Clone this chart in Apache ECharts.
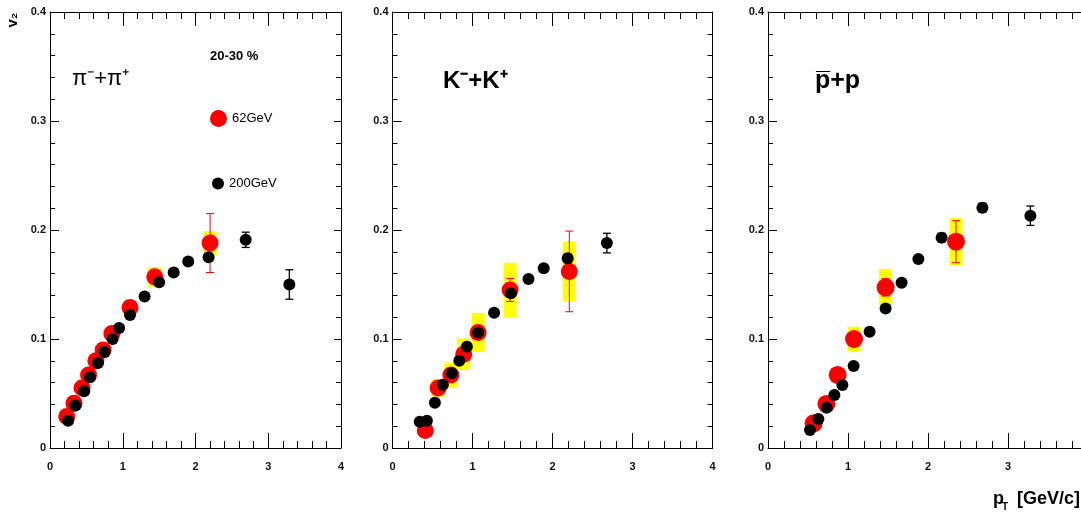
<!DOCTYPE html>
<html><head><meta charset="utf-8">
<script src="https://cdn.jsdelivr.net/npm/echarts@6/dist/echarts.min.js"></script>
<style>html,body{margin:0;padding:0;background:#fff}#c{width:1081px;height:515px}</style>
</head><body><div id="c"></div>
<script>
// ---------------- data ----------------
const xTickLabels = ['0', '1', '2', '3', '4'];
const yTickLabels = ['0', '0.1', '0.2', '0.3', '0.4'];
const panelLabels = ['π⁻+π⁺', 'K⁻+K⁺', 'p̅+p'];
const centralityLabel = '20-30 %';
const seriesNames = ['62GeV', '200GeV'];

// pions
const piX62   = [0.23, 0.33, 0.44, 0.53, 0.63, 0.73, 0.85, 1.10, 1.44, 2.20];
const piY62   = [0.029, 0.041, 0.055, 0.067, 0.080, 0.090, 0.105, 0.129, 0.157, 0.188];
const piErr62 = [0.001, 0.001, 0.001, 0.001, 0.002, 0.002, 0.002, 0.003, 0.005, 0.027];
const piSys62 = [0.002, 0.002, 0.002, 0.003, 0.003, 0.003, 0.004, 0.005, 0.009, 0.011];
const piX200   = [0.25, 0.35, 0.47, 0.55, 0.66, 0.75, 0.86, 0.95, 1.10, 1.30, 1.50, 1.70, 1.90, 2.18, 2.69, 3.29];
const piY200   = [0.025, 0.039, 0.052, 0.065, 0.078, 0.088, 0.100, 0.110, 0.122, 0.139, 0.152, 0.161, 0.171, 0.175, 0.191, 0.150];
const piErr200 = [0.001, 0.001, 0.001, 0.001, 0.001, 0.001, 0.001, 0.001, 0.001, 0.001, 0.002, 0.002, 0.002, 0.003, 0.007, 0.0135];

// kaons
const kX62   = [0.41, 0.57, 0.73, 0.89, 1.07, 1.47, 2.21];
const kY62   = [0.016, 0.055, 0.067, 0.086, 0.106, 0.145, 0.162];
const kErr62 = [0.002, 0.002, 0.002, 0.003, 0.004, 0.0105, 0.037];
const kSys62 = [0.003, 0.008, 0.0115, 0.0145, 0.018, 0.025, 0.0275];
const kX200   = [0.34, 0.43, 0.53, 0.63, 0.74, 0.835, 0.93, 1.07, 1.27, 1.48, 1.70, 1.89, 2.19, 2.68];
const kY200   = [0.024, 0.025, 0.0415, 0.058, 0.0685, 0.080, 0.093, 0.106, 0.124, 0.142, 0.155, 0.165, 0.174, 0.188];
const kErr200 = [0.001, 0.001, 0.001, 0.001, 0.001, 0.001, 0.001, 0.002, 0.002, 0.003, 0.003, 0.003, 0.004, 0.009];

// protons
const pX62   = [0.57, 0.73, 0.87, 1.075, 1.47, 2.35];
const pY62   = [0.0226, 0.0404, 0.067, 0.100, 0.1474, 0.1893];
const pErr62 = [0.002, 0.002, 0.003, 0.004, 0.008, 0.0193];
const pSys62 = [0.003, 0.004, 0.006, 0.0113, 0.017, 0.0217];
const pX200   = [0.525, 0.63, 0.733, 0.83, 0.93, 1.07, 1.27, 1.47, 1.67, 1.88, 2.17, 2.68, 3.28];
const pY200   = [0.0165, 0.0266, 0.037, 0.0486, 0.0578, 0.0752, 0.1067, 0.128, 0.1517, 0.1734, 0.193, 0.2205, 0.2131];
const pErr200 = [0.001, 0.001, 0.001, 0.001, 0.001, 0.002, 0.002, 0.002, 0.003, 0.003, 0.004, 0.004, 0.0089];

// ---------------- build ----------------
const FONT = 'Liberation Sans';
const panels = [
  {x62: piX62, y62: piY62, e62: piErr62, s62: piSys62, x200: piX200, y200: piY200, e200: piErr200},
  {x62: kX62, y62: kY62, e62: kErr62, s62: kSys62, x200: kX200, y200: kY200, e200: kErr200},
  {x62: pX62, y62: pY62, e62: pErr62, s62: pSys62, x200: pX200, y200: pY200, e200: pErr200}
];
const gridBoxes = [
  {left: 50, top: 12, width: 291, height: 436},
  {left: 392.5, top: 12, width: 320, height: 436},
  {left: 768, top: 12, width: 320, height: 436}
];

const grid = [], xAxis = [], yAxis = [], series = [];
const axisLine = {onZero: false, lineStyle: {color: '#000', width: 1}};
const labelStyle = {fontFamily: FONT, fontSize: 11, fontWeight: 'bold', color: '#111'};

function errRender(color, lw) {
  return function (params, api) {
    const x = api.value(0), y = api.value(1), e = api.value(2);
    const t = api.coord([x, y + e]), b = api.coord([x, y - e]);
    const h = 4;
    const st = {stroke: color, lineWidth: lw};
    return {type: 'group', children: [
      {type: 'line', shape: {x1: t[0], y1: t[1], x2: b[0], y2: b[1]}, style: st},
      {type: 'line', shape: {x1: t[0] - h, y1: t[1], x2: t[0] + h, y2: t[1]}, style: st},
      {type: 'line', shape: {x1: b[0] - h, y1: b[1], x2: b[0] + h, y2: b[1]}, style: st}
    ]};
  };
}
function boxRender(params, api) {
  const x = api.value(0), y = api.value(1), s = api.value(2);
  const t = api.coord([x, y + s]), b = api.coord([x, y - s]);
  const hw = 6.5;
  return {type: 'rect', shape: {x: t[0] - hw, y: t[1], width: 2 * hw, height: b[1] - t[1]},
          style: {fill: '#ffff00'}};
}

panels.forEach((p, i) => {
  grid.push(Object.assign({containLabel: false, outerBoundsMode: 'none'}, gridBoxes[i]));
  const xb = i * 2, yb = i * 2;
  xAxis.push({
    gridIndex: i, type: 'value', min: 0, max: 4, interval: 1, position: 'bottom',
    axisLine: axisLine,
    axisTick: {inside: true, length: 15, lineStyle: {color: '#000'}},
    minorTick: {show: true, splitNumber: 5, length: 7, lineStyle: {color: '#000'}},
    splitLine: {show: false},
    axisLabel: Object.assign({margin: 13, formatter: v => xTickLabels[Math.round(v)]}, labelStyle)
  });
  xAxis.push({
    gridIndex: i, type: 'value', min: 0, max: 4, interval: 1, position: 'top',
    axisLine: axisLine,
    axisTick: {inside: true, length: 14, lineStyle: {color: '#000'}},
    minorTick: {show: true, splitNumber: 5, length: 7, lineStyle: {color: '#000'}},
    splitLine: {show: false}, axisLabel: {show: false}
  });
  yAxis.push({
    gridIndex: i, type: 'value', min: 0, max: 0.4, interval: 0.1, position: 'left',
    axisLine: axisLine,
    axisTick: {inside: true, length: 9, lineStyle: {color: '#000'}},
    minorTick: {show: true, splitNumber: 5, length: 5, lineStyle: {color: '#000'}},
    splitLine: {show: false},
    axisLabel: Object.assign({margin: 4, formatter: v => yTickLabels[Math.round(v * 10)]}, labelStyle)
  });
  yAxis.push({
    gridIndex: i, type: 'value', min: 0, max: 0.4, interval: 0.1, position: 'right',
    axisLine: axisLine,
    axisTick: {inside: true, length: 7, lineStyle: {color: '#000'}},
    minorTick: {show: true, splitNumber: 5, length: 5, lineStyle: {color: '#000'}},
    splitLine: {show: false}, axisLabel: {show: false}
  });

  const d62 = p.x62.map((x, k) => [x, p.y62[k], p.e62[k]]);
  const s62 = p.x62.map((x, k) => [x, p.y62[k], p.s62[k]]);
  const d200 = p.x200.map((x, k) => [x, p.y200[k], p.e200[k]]);
  const red = i === 2 ? 18 : 17;

  series.push({type: 'custom', name: 'sys62_' + i, xAxisIndex: xb, yAxisIndex: yb, z: 1,
    renderItem: boxRender, data: s62, silent: true});
  series.push({type: 'custom', name: 'err62_' + i, xAxisIndex: xb, yAxisIndex: yb, z: 2,
    renderItem: errRender('#ff0000', 1), data: d62, silent: true});
  series.push({type: 'scatter', name: seriesNames[0], xAxisIndex: xb, yAxisIndex: yb, z: 3,
    symbol: 'circle', symbolSize: red, itemStyle: {color: '#ff0000', opacity: 1},
    data: d62.map(d => [d[0], d[1]])});
  series.push({type: 'custom', name: 'err200_' + i, xAxisIndex: xb, yAxisIndex: yb, z: 4,
    renderItem: errRender('#000', 1.3), data: d200, silent: true});
  series.push({type: 'scatter', name: seriesNames[1], xAxisIndex: xb, yAxisIndex: yb, z: 5,
    symbol: 'circle', symbolSize: 12, itemStyle: {color: '#000', opacity: 1},
    data: d200.map(d => [d[0], d[1]])});
});

const txt = (x, y, text, size, weight, extra) => Object.assign({
  type: 'text', x: x, y: y, z: 10,
  style: {text: text, fontFamily: FONT, fontSize: size, fontWeight: weight || 'normal',
          fill: '#000', align: 'left', verticalAlign: 'middle'}
}, extra || {});

const graphic = [
  txt(72, 79, panelLabels[0], 22, 'normal'),
  txt(443, 81, panelLabels[1], 24, 'bold'),
  txt(815, 81, panelLabels[2], 25, 'bold'),
  txt(210, 56, centralityLabel, 13, 'bold'),
  {type: 'text', x: 13, y: 20, rotation: Math.PI / 2, z: 10,
   style: {text: 'v₂', fontFamily: FONT, fontSize: 15, fontWeight: 'bold', fill: '#000',
           align: 'center', verticalAlign: 'middle'}},
  txt(993, 499, 'p', 18, 'bold'),
  txt(1002, 507, 'T', 10, 'bold'),
  txt(1017, 499, '[GeV/c]', 18, 'bold')
];

const chart = echarts.init(document.getElementById('c'), null, {renderer: 'canvas'});
chart.setOption({
  animation: false,
  backgroundColor: '#fff',
  grid: grid, xAxis: xAxis, yAxis: yAxis, series: series,
  legend: [
    {data: [seriesNames[0]], left: 210, top: 110, padding: 0, icon: 'circle', itemWidth: 17, itemHeight: 17,
     selectedMode: false, textStyle: {fontFamily: FONT, fontSize: 13, color: '#000'}},
    {data: [seriesNames[1]], left: 212, top: 177, padding: 0, icon: 'circle', itemWidth: 12, itemHeight: 12,
     selectedMode: false, textStyle: {fontFamily: FONT, fontSize: 13, color: '#000'}}
  ],
  graphic: graphic
});
</script></body></html>
